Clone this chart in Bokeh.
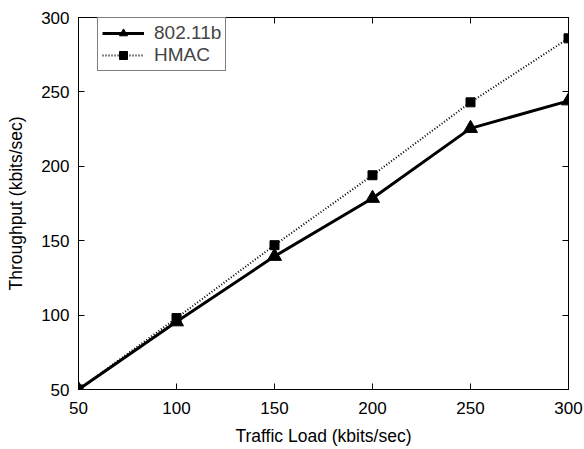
from bokeh.plotting import figure
from bokeh.models import LinearAxis, Legend, LegendItem, FixedTicker, CustomJSTickFormatter
from bokeh.embed import file_html
from bokeh.resources import INLINE

load = [50, 100, 150, 200, 250, 300]
thr_80211b = [50, 95.5, 139.5, 178.5, 225.5, 244]
thr_hmac = [50, 98, 147, 194, 243, 286]
xticks = [50, 100, 150, 200, 250, 300]
yticks = [50, 100, 150, 200, 250, 300]

FONT = "Liberation Sans"

p = figure(width=584, height=449, output_backend="svg", toolbar_location=None,
           x_range=(50, 300), y_range=(50, 300),
           min_border_left=78, min_border_right=16, min_border_top=17, min_border_bottom=60)
p.background_fill_color = "white"
p.border_fill_color = "white"
p.outline_line_color = "black"
p.outline_line_width = 1
p.grid.visible = False

for ax in [p.xaxis[0], p.yaxis[0]]:
    ax.major_tick_in = 6
    ax.major_tick_out = 0
    ax.minor_tick_in = 0
    ax.minor_tick_out = 0
    ax.major_label_text_font = FONT
    ax.major_label_text_font_size = "17px"
    ax.major_label_text_color = "black"
    ax.axis_label_text_font = FONT
    ax.axis_label_text_font_size = "17.5px"
    ax.axis_label_text_font_style = "normal"
    ax.axis_label_text_color = "black"
    ax.axis_line_color = "black"
    ax.major_tick_line_color = "black"
p.xaxis[0].ticker = FixedTicker(ticks=xticks)
p.yaxis[0].ticker = FixedTicker(ticks=yticks)
p.xaxis[0].axis_label = "Traffic Load (kbits/sec)"
p.yaxis[0].axis_label = "Throughput (kbits/sec)"
p.xaxis[0].major_label_standoff = 12
p.yaxis[0].major_label_standoff = 9
p.xaxis[0].axis_label_standoff = 9
p.yaxis[0].axis_label_standoff = 12

blank = CustomJSTickFormatter(code="return '';")
top = LinearAxis(ticker=FixedTicker(ticks=xticks), major_tick_in=6, major_tick_out=0,
                 minor_tick_in=0, minor_tick_out=0, formatter=blank,
                 major_label_standoff=0)
right = LinearAxis(ticker=FixedTicker(ticks=yticks), major_tick_in=6, major_tick_out=0,
                   minor_tick_in=0, minor_tick_out=0, formatter=blank,
                   major_label_standoff=0)
p.add_layout(top, "above")
p.add_layout(right, "right")

r1l = p.line(load, thr_80211b, line_color="black", line_width=3)
r1m = p.scatter(load, thr_80211b, marker="triangle", size=14, fill_color="black", line_color="black")
r2l = p.line(load, thr_hmac, line_color="black", line_width=2, line_dash="1 2")
r2m = p.scatter(load, thr_hmac, marker="square", size=9, fill_color="black", line_color="black")

legend = Legend(items=[LegendItem(label="802.11b", renderers=[r1l, r1m]),
                       LegendItem(label="HMAC", renderers=[r2l, r2m])],
                location=(19, 318), orientation="vertical")
legend.label_text_font = FONT
legend.label_text_font_size = "19px"
legend.border_line_color = "black"
legend.border_line_width = 1
legend.glyph_width = 42
legend.glyph_height = 20
legend.label_height = 20
legend.label_standoff = 10
legend.padding = 4
legend.spacing = 0
legend.margin = 0
legend.background_fill_alpha = 1
p.add_layout(legend, "center")

open("out.html", "w").write(file_html(p, INLINE))
